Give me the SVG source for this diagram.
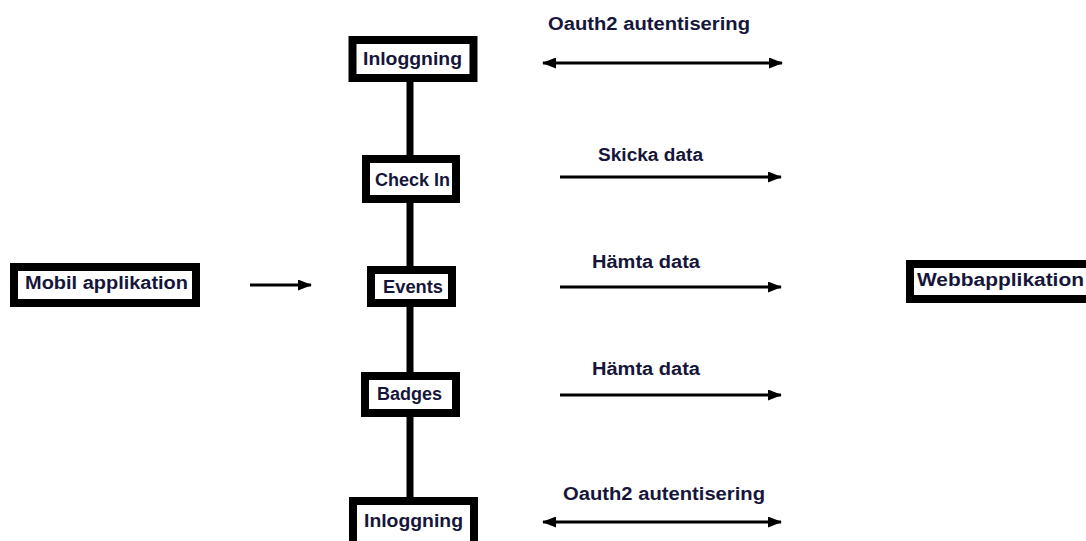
<svg xmlns="http://www.w3.org/2000/svg" width="1086" height="541" viewBox="0 0 1086 541">
<style>
.box{fill:#fff;stroke:#000;stroke-width:8}
.t{font-family:"Liberation Sans",Arial,sans-serif;font-weight:bold;font-size:18px;fill:#16163a}
.a{stroke:#000;stroke-width:3;fill:none}
.v{stroke:#000;stroke-width:7}
</style>
<defs>
<marker id="ah" viewBox="0 0 14 11" refX="13" refY="5.5" markerWidth="14" markerHeight="11" markerUnits="userSpaceOnUse" orient="auto-start-reverse">
<path d="M0,0 L14,5.5 L0,11 z" fill="#000"/>
</marker>
</defs>
<rect width="1086" height="541" fill="#fff"/>
<g id="connectors">
<line class="v" x1="410" y1="80" x2="410" y2="157"/>
<line class="v" x1="410" y1="201" x2="410" y2="268"/>
<line class="v" x1="410" y1="305" x2="410" y2="374"/>
<line class="v" x1="410" y1="415" x2="410" y2="499"/>
<line class="a" x1="250" y1="285" x2="311" y2="285" marker-end="url(#ah)"/>
<line class="a" x1="543" y1="63" x2="782" y2="63" marker-start="url(#ah)" marker-end="url(#ah)"/>
<line class="a" x1="560" y1="177" x2="781" y2="177" marker-end="url(#ah)"/>
<line class="a" x1="560" y1="287" x2="781" y2="287" marker-end="url(#ah)"/>
<line class="a" x1="560" y1="395" x2="781" y2="395" marker-end="url(#ah)"/>
<line class="a" x1="543" y1="522" x2="781" y2="522" marker-start="url(#ah)" marker-end="url(#ah)"/>
<text class="t" x="548" y="30" textLength="202" lengthAdjust="spacingAndGlyphs">Oauth2 autentisering</text>
<text class="t" x="598" y="161" textLength="105" lengthAdjust="spacingAndGlyphs">Skicka data</text>
<text class="t" x="592" y="268" textLength="108" lengthAdjust="spacingAndGlyphs">Hämta data</text>
<text class="t" x="592" y="375" textLength="108" lengthAdjust="spacingAndGlyphs">Hämta data</text>
<text class="t" x="563" y="500" textLength="202" lengthAdjust="spacingAndGlyphs">Oauth2 autentisering</text>
</g>
<g id="inloggning1">
<rect class="box" x="352.5" y="40" width="121" height="38"/>
<text class="t" x="363" y="65" textLength="99" lengthAdjust="spacingAndGlyphs">Inloggning</text>
</g>
<g id="checkin">
<rect class="box" x="366" y="159" width="90" height="40"/>
<text class="t" x="375" y="186" textLength="75" lengthAdjust="spacingAndGlyphs">Check In</text>
</g>
<g id="events">
<rect class="box" x="371" y="270" width="81" height="33"/>
<text class="t" x="383" y="293" textLength="60" lengthAdjust="spacingAndGlyphs">Events</text>
</g>
<g id="badges">
<rect class="box" x="365" y="376" width="91" height="37"/>
<text class="t" x="377" y="400" textLength="65" lengthAdjust="spacingAndGlyphs">Badges</text>
</g>
<g id="inloggning2">
<rect class="box" x="353" y="501" width="121" height="44"/>
<text class="t" x="364" y="527" textLength="99" lengthAdjust="spacingAndGlyphs">Inloggning</text>
</g>
<g id="mobil">
<rect class="box" x="14" y="267" width="182" height="36"/>
<text class="t" x="25" y="289" textLength="163" lengthAdjust="spacingAndGlyphs">Mobil applikation</text>
</g>
<g id="webb">
<rect class="box" x="910" y="264" width="182" height="35"/>
<text class="t" x="917" y="286" textLength="167" lengthAdjust="spacingAndGlyphs">Webbapplikation</text>
</g>
</svg>
